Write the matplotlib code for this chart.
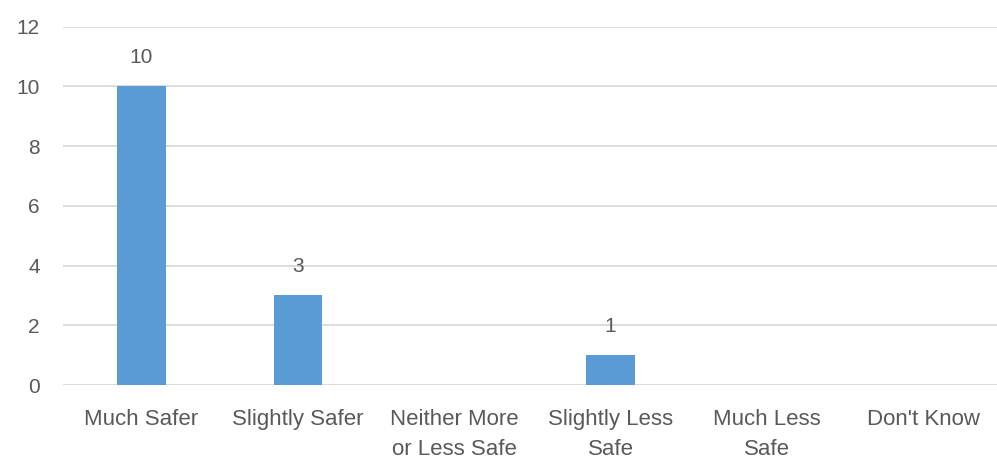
import matplotlib
matplotlib.use("Agg")
import matplotlib.pyplot as plt

categories = ["Much Safer", "Slightly Safer", "Neither More\nor Less Safe",
              "Slightly Less\nSafe", "Much Less\nSafe", "Don't Know"]
counts = [10, 3, 0, 1, 0, 0]
y_ticks = [0, 2, 4, 6, 8, 10, 12]

text_color = "#595959"
bar_color = "#5B9BD5"
grid_color = "#D9D9D9"

plt.rcParams["font.family"] = ["Liberation Sans", "DejaVu Sans"]

fig = plt.figure(figsize=(9.97, 4.59), dpi=100)
ax = fig.add_axes([0.0635, 0.161, 0.941, 0.781])

x = range(len(categories))
bars = ax.bar(x, counts, width=0.31, color=bar_color, zorder=3)

for rect, v in zip(bars, counts):
    if v > 0:
        ax.annotate(str(v), (rect.get_x() + rect.get_width() / 2, v),
                    xytext=(0, 14), textcoords="offset points",
                    ha="center", va="bottom", fontsize=15, color=text_color)

ax.set_xlim(-0.5, len(categories) - 0.5)
ax.set_ylim(0, 12)
ax.set_yticks(y_ticks)
ax.set_xticks(list(x))
ax.set_xticklabels(categories, linespacing=1.6)

ax.grid(axis="y", color=grid_color, linewidth=1.3, zorder=0)
for s in ax.spines.values():
    s.set_visible(False)
ax.tick_params(axis="both", length=0, colors=text_color, labelsize=16)
ax.tick_params(axis="y", pad=17, labelsize=15)
ax.tick_params(axis="x", pad=17)

fig.savefig("out.png", dpi=100, facecolor="white")
